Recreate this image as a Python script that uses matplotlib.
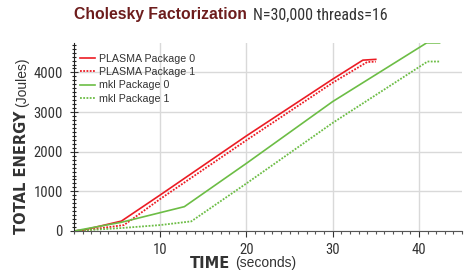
import matplotlib
matplotlib.use("Agg")
import matplotlib.pyplot as plt
from matplotlib.ticker import MultipleLocator

NARROW = ["Roboto Condensed", "DejaVu Sans"]

# ---- data ----
plasma0_t = [0, 1, 5.5, 10, 20, 30, 33.5, 35]
plasma0_e = [0, 20, 250, 909, 2400, 3830, 4310, 4330]
plasma1_t = [0, 1, 5.8, 10, 20, 30, 34, 35]
plasma1_e = [0, 10, 150, 808, 2290, 3740, 4262, 4272]
mkl0_t = [0, 5.5, 12.8, 20, 30, 40.9, 42.4]
mkl0_e = [0, 220, 614, 1707, 3265, 4745, 4745]
mkl1_t = [0, 5.5, 10, 13.6, 20, 30, 37.9, 41, 42.4]
mkl1_e = [0, 75, 150, 243, 1200, 2727, 3838, 4275, 4275]
series_labels = ["PLASMA Package 0", "PLASMA Package 1", "mkl Package 0", "mkl Package 1"]
xticks = [10, 20, 30, 40]
yticks = [0, 1000, 2000, 3000, 4000]

RED = "#ec1c24"
GREEN = "#6cbd45"

fig = plt.figure(figsize=(4.71, 2.74), dpi=100)
ax = fig.add_axes([74/471, 1-231/274, 388/471, (231-42.7)/274])

ax.plot(plasma0_t, plasma0_e, color=RED, lw=1.2, label=series_labels[0])
ax.plot(plasma1_t, plasma1_e, color=RED, lw=1.3, ls=(0, (1, 0.8)), label=series_labels[1])
ax.plot(mkl0_t, mkl0_e, color=GREEN, lw=1.2, label=series_labels[2])
ax.plot(mkl1_t, mkl1_e, color=GREEN, lw=1.3, ls=(0, (1, 0.8)), label=series_labels[3])

ax.set_xlim(0, 45)
ax.set_ylim(0, 4750)
ax.set_xticks(xticks)
ax.set_yticks(yticks)
ax.xaxis.set_minor_locator(MultipleLocator(1))
ax.yaxis.set_minor_locator(MultipleLocator(100))
ax.grid(True, which="major", color="#d9d9d9", lw=1)
ax.set_axisbelow(True)
for s in ["top", "right"]:
    ax.spines[s].set_visible(False)
ax.spines["left"].set_color("#222222")
ax.spines["bottom"].set_color("#555555")
ax.tick_params(axis="both", which="major", labelsize=10.5, colors="#333333", width=0.8)
ax.tick_params(axis="y", which="minor", direction="inout", length=3, width=0.8, colors="#222222")
ax.tick_params(axis="x", which="minor", direction="out", length=2, width=0.8, colors="#555555")
ax.tick_params(axis="y", which="major", direction="inout", length=6, pad=5)
ax.tick_params(axis="x", which="major", direction="out", length=4, pad=4.5)
for lab in ax.get_xticklabels() + ax.get_yticklabels():
    lab.set_fontfamily(NARROW)
    lab.set_color("#333333")

leg = ax.legend(loc="upper left", bbox_to_anchor=(0.015, 0.94), frameon=False,
                prop={"family": "Liberation Sans", "size": 7.7}, handlelength=1.4,
                handletextpad=0.4, labelspacing=0.3, borderpad=0, borderaxespad=0)
for t in leg.get_texts():
    t.set_color("#333333")

# title
fig.canvas.draw()
r = fig.canvas.get_renderer()
t1 = fig.text(74/471, 1-15/274, "Cholesky Factorization", fontsize=11.3, fontweight="bold",
              color="#6d1c1c", va="center", ha="left", family="Liberation Sans")
bb = t1.get_window_extent(r)
fig.text((bb.x1+6)/471, 1-15/274, "N=30,000 threads=16", fontsize=11.5, color="#333333",
         va="center", ha="left", family=NARROW)

# xlabel
xl1 = fig.text(190/471, 1-263/274, "TIME", fontsize=10.5, fontweight="heavy", color="#333333",
               va="center", ha="left", family="DejaVu Sans")
bb = xl1.get_window_extent(r)
fig.text((bb.x1+5)/471, 1-263/274, "(seconds)", fontsize=10, color="#333333",
         va="center", ha="left", family="Liberation Sans")

# ylabel
yl1 = fig.text(22/471, 1-234/274, "TOTAL ENERGY", fontsize=10.5, fontweight="heavy", color="#333333",
               va="bottom", ha="center", rotation=90, family="DejaVu Sans")
bb = yl1.get_window_extent(r)
fig.text(22/471, (bb.y1+4)/274, "(Joules)", fontsize=10, color="#333333",
         va="bottom", ha="center", rotation=90, family="Liberation Sans")

fig.savefig("out.png", dpi=100)
